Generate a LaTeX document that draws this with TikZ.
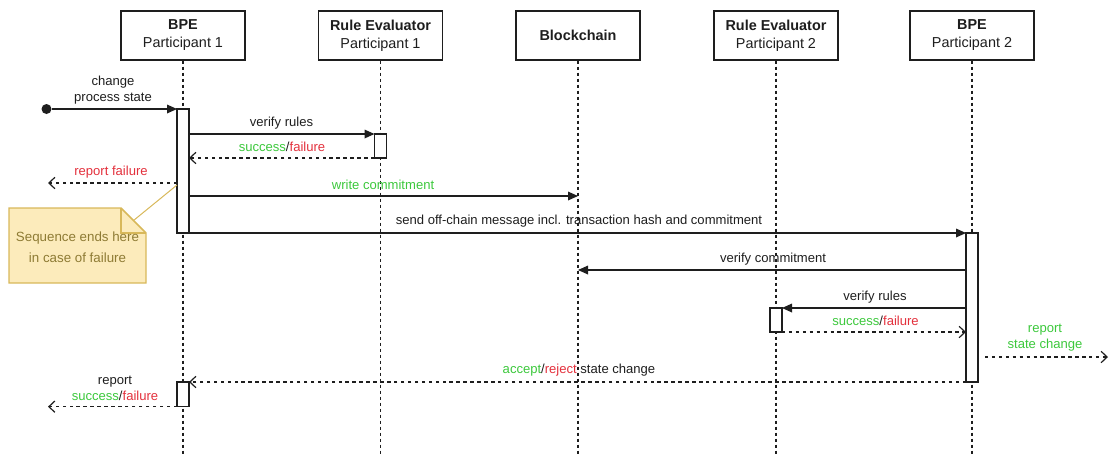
\documentclass[tikz,border=0pt]{standalone}
\usepackage{fontspec}
\setmainfont{Liberation Sans}
\usetikzlibrary{arrows.meta}

\definecolor{okgreen}{HTML}{3CC83C}
\definecolor{errred}{HTML}{E3303C}
\definecolor{notefill}{HTML}{FCEBBB}
\definecolor{noteline}{HTML}{D8B85A}
\definecolor{notetext}{HTML}{8E7B34}
\definecolor{ink}{HTML}{1E1E1E}

\newcommand{\ok}[1]{\textcolor{okgreen}{#1}}
\newcommand{\err}[1]{\textcolor{errred}{#1}}

\begin{document}
\begin{tikzpicture}[x=0.75pt,y=-0.75pt,
  head/.style={draw=ink, line width=0.9pt, fill=white, inner sep=0pt,
    minimum width=93pt, minimum height=36.75pt, align=center,
    font=\fontsize{10.8}{13.5}\selectfont, text=ink},
  life/.style={draw=ink, line width=0.8pt, dash pattern=on 2.25pt off 2.25pt},
  act/.style={draw=ink, line width=0.9pt, fill=white, inner sep=0pt,
    outer sep=0pt, minimum width=9pt, anchor=north},
  msg/.style={draw=ink, line width=0.9pt, -{Triangle[length=7.5pt,width=6.5pt]}},
  ret/.style={draw=ink, line width=0.9pt, dash pattern=on 2.6pt off 2.6pt,
    -{Straight Barb[length=4.5pt,width=8.5pt]}},
  lbl/.style={font=\fontsize{9.8}{12}\selectfont, text=ink, inner sep=0pt, align=center},
  dot/.style={circle, fill=ink, inner sep=0pt, minimum size=7.5pt},
]
\useasboundingbox (0,0) rectangle (1111,455);

% participants
\node[head] (h1) at (183,35.5) {\textbf{BPE}\\Participant 1};
\node[head] (h2) at (380.5,35.5) {\textbf{Rule Evaluator}\\Participant 1};
\node[head] (h3) at (578,35.5) {\textbf{Blockchain}};
\node[head] (h4) at (776,35.5) {\textbf{Rule Evaluator}\\Participant 2};
\node[head] (h5) at (972,35.5) {\textbf{BPE}\\Participant 2};

% lifelines
\coordinate (bottom) at (0,455);
\foreach \h in {h1,h2,h3,h4,h5}
  \draw[life] (\h.south) -- (\h.south |- bottom);

% activation bars
\node[act, minimum height=93pt]   (a1) at (183,109) {};
\node[act, minimum height=18pt]   (r1) at (380.5,134) {};
\node[act, minimum height=111.75pt] (a2) at (972,233) {};
\node[act, minimum height=18pt]   (r2) at (776,308) {};
\node[act, minimum height=18.5pt] (a3) at (183,382) {};

% free ends of messages
\coordinate (rf)  at (48,183);
\coordinate (wc)  at (578,196);
\coordinate (vc)  at (578,270);
\coordinate (rs0) at (985,357);
\coordinate (rs)  at (1108,357);
\coordinate (rsf) at (48,406);

% messages
\node[dot] (start) at (46.5,109) {};
\draw[msg] (start) -- (a1.north west);
\node[lbl] at (113,90) {change\\process state};

\draw[msg] (a1.east |- r1.north) -- (r1.north west);
\node[lbl] at (281.5,123) {verify rules};

\draw[ret] (r1.south west) -- (a1.east |- r1.south);
\node[lbl] at (282,147) {\ok{success}/\err{failure}};

\draw[ret] (a1.west |- rf) -- (rf);
\node[lbl] at (111,172) {\err{report failure}};

\draw[msg] (a1.east |- wc) -- (wc);
\node[lbl] at (383,185) {\ok{write commitment}};

\draw[msg] (a1.south east) -- (a2.north west);
\node[lbl] at (579,221) {send off-chain message incl. transaction hash and commitment};

\draw[msg] (a2.west |- vc) -- (vc);
\node[lbl] at (773,259) {verify commitment};

\draw[msg] (a2.west |- r2.north) -- (r2.north east);
\node[lbl] at (875,297) {verify rules};

\draw[ret] (r2.south east) -- (a2.west |- r2.south);
\node[lbl] at (875.5,321) {\ok{success}/\err{failure}};

\draw[ret] (rs0) -- (rs);
\node[lbl] at (1045,338) {\ok{report}\\\ok{state change}};

\draw[ret] (a2.west |- a3.north) -- (a3.north east);
\node[lbl] at (579,370) {\ok{accept}/\err{reject} state change};

\draw[ret] (a3.south west) -- (a3.south west -| rsf);
\node[lbl] at (115,388) {report\\\ok{success}/\err{failure}};

% note attached to the first activation bar
\coordinate (nA) at (9,208);
\coordinate (nB) at (121,208);
\coordinate (nC) at (146,233);
\coordinate (nD) at (146,283);
\coordinate (nE) at (9,283);
\coordinate (nF) at (121,233);
\coordinate (nM) at (133.5,220.5);
\coordinate (nT) at (177,185);
\draw[noteline, line width=1.1pt, fill=notefill, line join=miter]
  (nA) -- (nB) -- (nC) -- (nD) -- (nE) -- cycle;
\draw[noteline, line width=1.1pt] (nB) -- (nF) -- (nC);
\draw[noteline, line width=0.75pt] (nM) -- (nT);
\node[font=\fontsize{10}{16}\selectfont, text=notetext, align=center, inner sep=0pt]
  (note) at (77.5,247.5) {Sequence ends here\\in case of failure};
\end{tikzpicture}
\end{document}
